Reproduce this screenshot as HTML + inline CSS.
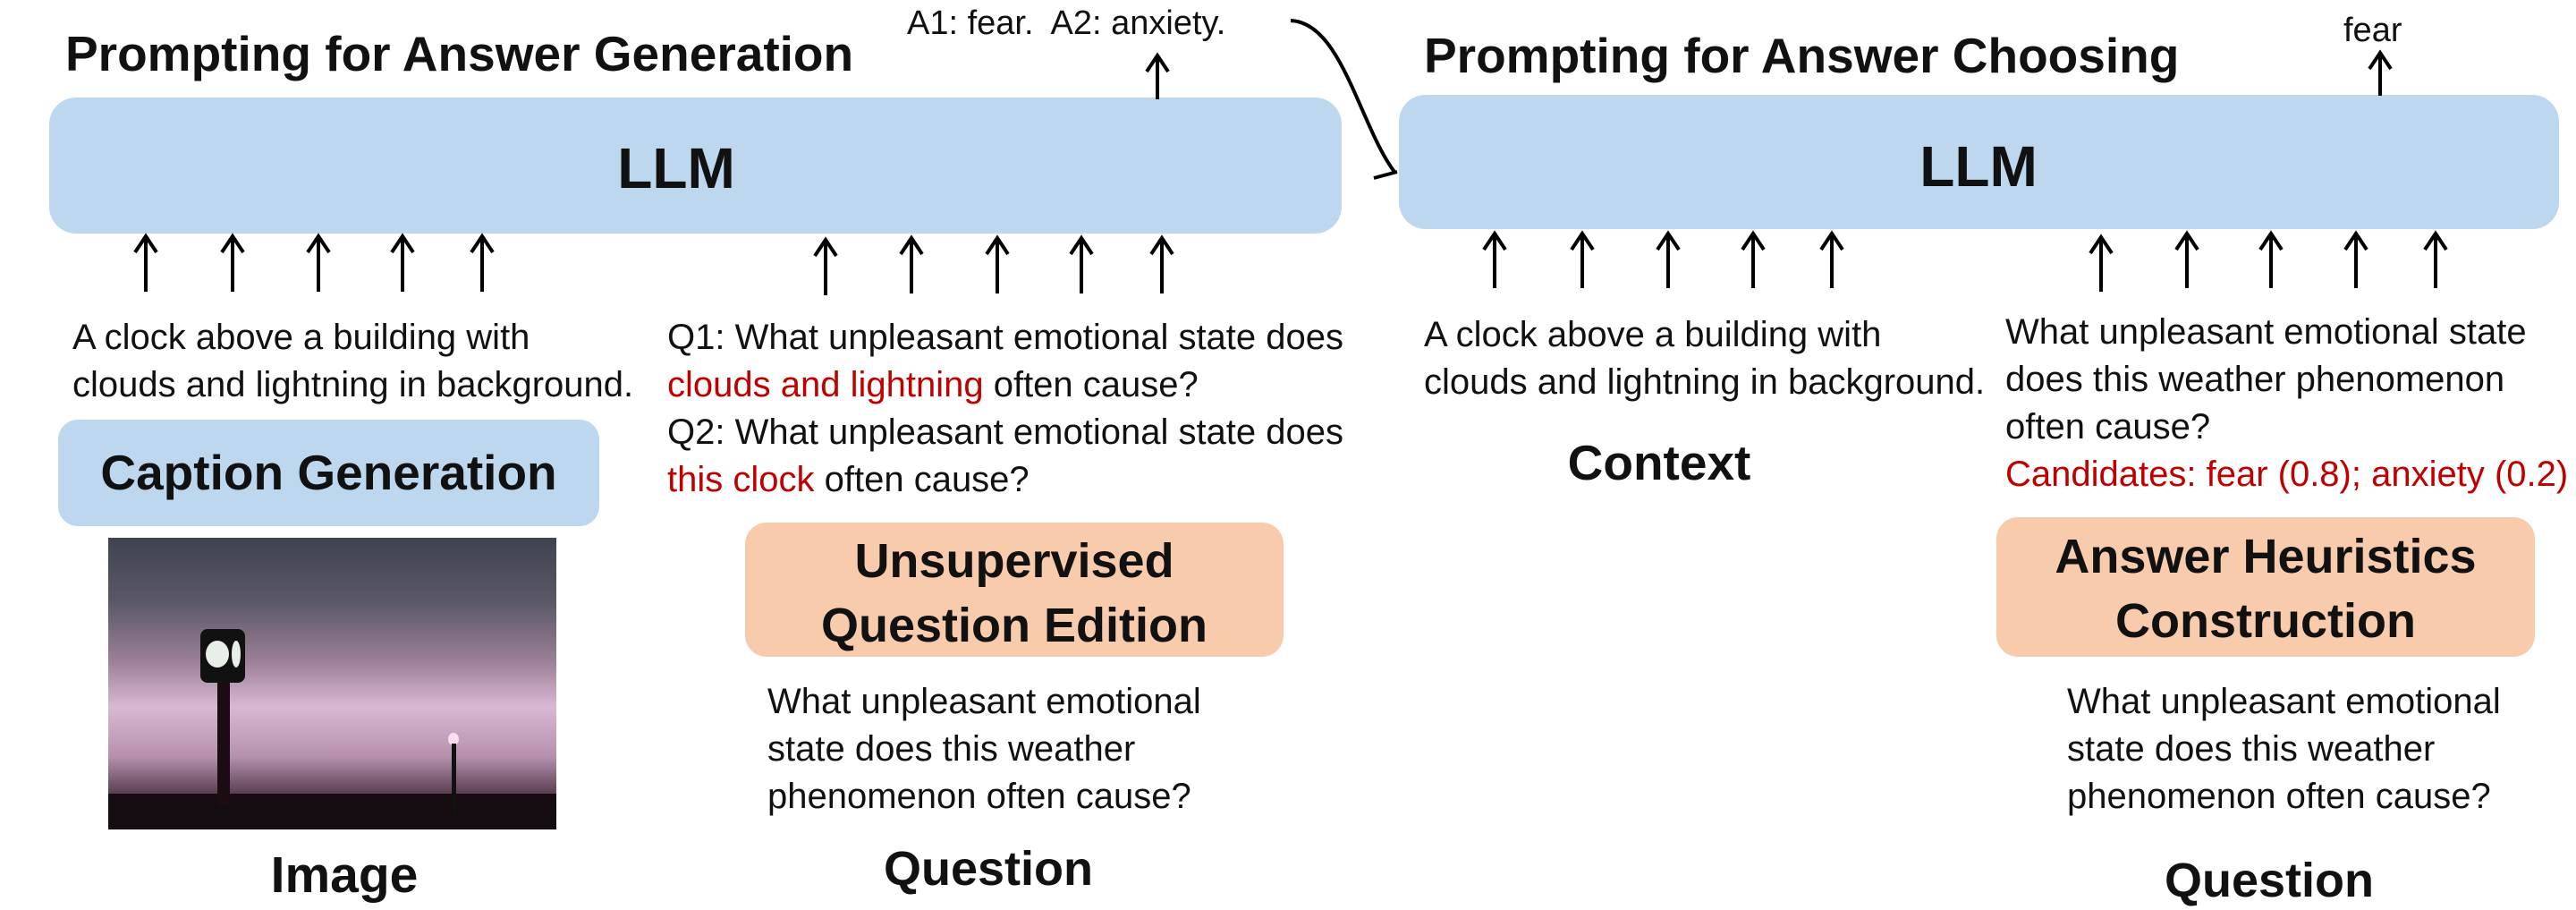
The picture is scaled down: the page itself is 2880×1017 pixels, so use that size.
<!DOCTYPE html>
<html><head><meta charset="utf-8"><style>
*{margin:0;padding:0;box-sizing:border-box}
body{width:2880px;height:1016px;background:#fff;position:relative;overflow:hidden;font-family:"Liberation Sans",sans-serif;color:#111}
.a{position:absolute;white-space:nowrap}
.box{position:absolute;border-radius:30px}
.blue{background:#bdd7ee}
.org{background:#f8cbad}
.t{font-size:40px;line-height:53px}
.red{color:#c00000}
.h{font-weight:bold;font-size:54px;text-align:center}
</style></head><body>
<div class="a" style="left:73px;top:30px;font-size:55px;font-weight:bold;line-height:60px">Prompting for Answer Generation</div>
<div class="a" style="left:1014px;top:4px;font-size:38px;line-height:44px">A1: fear.&nbsp; A2: anxiety.</div>
<div class="a" style="left:1592px;top:32px;font-size:55px;font-weight:bold;line-height:60px">Prompting for Answer Choosing</div>
<div class="a" style="left:2620px;top:12px;font-size:38px;line-height:44px">fear</div>

<div class="box blue" style="left:55px;top:109px;width:1445px;height:152px"></div>
<div class="box blue" style="left:1564px;top:106px;width:1297px;height:150px"></div>
<div class="a" style="left:656px;top:150px;width:200px;text-align:center;font-size:64px;font-weight:bold;line-height:76px">LLM</div>
<div class="a" style="left:2112px;top:148px;width:200px;text-align:center;font-size:64px;font-weight:bold;line-height:76px">LLM</div>

<svg class="a" style="left:0;top:0" width="2880" height="1016">
<g stroke="#000" stroke-width="4" fill="none">
<path d="M1443 23 C1500 25 1520 140 1559 192"/>
<path d="M1536 199 L1562 192"/>
<path d="M163 326V266M151 282L163 264L175 282"/>
<path d="M260 326V266M248 282L260 264L272 282"/>
<path d="M356 326V266M344 282L356 264L368 282"/>
<path d="M450 326V266M438 282L450 264L462 282"/>
<path d="M539 326V266M527 282L539 264L551 282"/>
<path d="M923 330V270M911 286L923 268L935 286"/>
<path d="M1019 328V268M1007 284L1019 266L1031 284"/>
<path d="M1115 328V268M1103 284L1115 266L1127 284"/>
<path d="M1209 328V268M1197 284L1209 266L1221 284"/>
<path d="M1299 328V268M1287 284L1299 266L1311 284"/>
<path d="M1294 111V64M1282 80L1294 62L1306 80"/>
<path d="M1671 322V263M1659 279L1671 261L1683 279"/>
<path d="M1769 322V263M1757 279L1769 261L1781 279"/>
<path d="M1865 322V263M1853 279L1865 261L1877 279"/>
<path d="M1960 322V263M1948 279L1960 261L1972 279"/>
<path d="M2048 322V263M2036 279L2048 261L2060 279"/>
<path d="M2349 326V267M2337 283L2349 265L2361 283"/>
<path d="M2445 322V263M2433 279L2445 261L2457 279"/>
<path d="M2539 322V263M2527 279L2539 261L2551 279"/>
<path d="M2634 322V263M2622 279L2634 261L2646 279"/>
<path d="M2723 322V263M2711 279L2723 261L2735 279"/>
<path d="M2661 107V61M2649 77L2661 59L2673 77"/>
</g>
</svg>

<div class="a t" style="left:81px;top:351px">A clock above a building with<br>clouds and lightning in background.</div>
<div class="a t" style="left:746px;top:351px">Q1: What unpleasant emotional state does<br><span class="red">clouds and lightning</span> often cause?<br>Q2: What unpleasant emotional state does<br><span class="red">this clock</span> often cause?</div>

<div class="box blue" style="left:65px;top:469px;width:605px;height:119px;border-radius:22px"></div>
<div class="a h" style="left:65px;top:498px;width:605px;line-height:60px;font-size:55px">Caption Generation</div>

<div class="a" style="left:121px;top:601px;width:501px;height:326px;background:linear-gradient(180deg,#3e4350 0%,#5b5866 22%,#9a7f96 42%,#d9b8d2 58%,#b591ad 75%,#4a3040 90%,#1a1018 100%);overflow:hidden">
<div style="position:absolute;left:0;bottom:0;width:501px;height:40px;background:#150c12"></div>
<div style="position:absolute;left:103px;top:102px;width:50px;height:60px;background:#111;border-radius:8px"></div>
<div style="position:absolute;left:109px;top:115px;width:26px;height:30px;background:#e8efe8;border-radius:50%"></div>
<div style="position:absolute;left:138px;top:115px;width:10px;height:30px;background:#e8efe8;border-radius:50%"></div>
<div style="position:absolute;left:122px;top:160px;width:14px;height:140px;background:#1a0c10"></div>
<div style="position:absolute;left:380px;top:218px;width:12px;height:14px;background:#fde;border-radius:50%"></div>
<div style="position:absolute;left:384px;top:230px;width:5px;height:80px;background:#111"></div>
</div>
<div class="a" style="left:285px;top:945px;width:200px;text-align:center;font-size:57px;font-weight:bold;line-height:66px">Image</div>

<div class="box org" style="left:833px;top:584px;width:602px;height:150px;border-radius:24px"></div>
<div class="a h" style="left:833px;top:591px;width:602px;line-height:72px">Unsupervised<br>Question Edition</div>
<div class="a t" style="left:858px;top:758px">What unpleasant emotional<br>state does this weather<br>phenomenon often cause?</div>
<div class="a" style="left:955px;top:938px;width:300px;text-align:center;font-size:54px;font-weight:bold;line-height:66px">Question</div>

<div class="a t" style="left:1592px;top:348px">A clock above a building with<br>clouds and lightning in background.</div>
<div class="a" style="left:1705px;top:484px;width:300px;text-align:center;font-size:55px;font-weight:bold;line-height:66px">Context</div>
<div class="a t" style="left:2242px;top:345px;line-height:53px">What unpleasant emotional state<br>does this weather phenomenon<br>often cause?<br><span class="red">Candidates: fear (0.8); anxiety (0.2)</span></div>

<div class="box org" style="left:2232px;top:578px;width:602px;height:156px;border-radius:24px"></div>
<div class="a h" style="left:2232px;top:586px;width:602px;line-height:72px">Answer Heuristics<br>Construction</div>
<div class="a t" style="left:2311px;top:758px">What unpleasant emotional<br>state does this weather<br>phenomenon often cause?</div>
<div class="a" style="left:2387px;top:951px;width:300px;text-align:center;font-size:54px;font-weight:bold;line-height:66px">Question</div>
</body></html>
